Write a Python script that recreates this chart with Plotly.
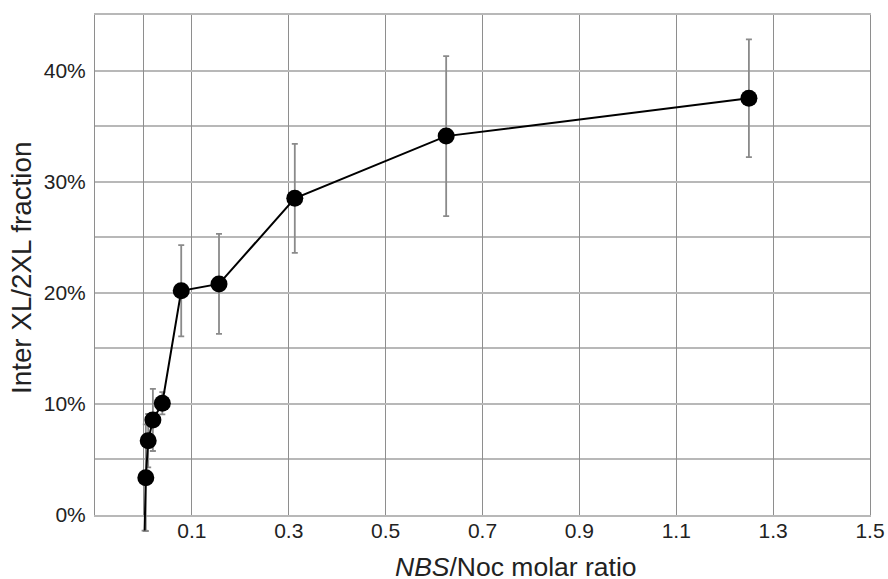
import plotly.graph_objects as go

# ---- data ----
ratio = [0.0024, 0.0049, 0.0098, 0.0195, 0.039, 0.078, 0.156, 0.3125, 0.625, 1.25]
frac = [-0.014, 0.0336, 0.0669, 0.0856, 0.1006, 0.2018, 0.2080, 0.2850, 0.3410, 0.3750]
err = [0.0, 0.048, 0.024, 0.028, 0.010, 0.041, 0.045, 0.049, 0.072, 0.053]
x_tick_vals = [0.1, 0.3, 0.5, 0.7, 0.9, 1.1, 1.3, 1.5]
x_tick_text = ["0.1", "0.3", "0.5", "0.7", "0.9", "1.1", "1.3", "1.5"]
y_tick_vals = [0.0, 0.1, 0.2, 0.3, 0.4]
y_tick_text = ["0%", "10%", "20%", "30%", "40%"]
x_title = "<i>NBS</i>/Noc molar ratio"
y_title = "Inter XL/2XL fraction"

FONT = "Liberation Sans, Arial, sans-serif"
W, H = 888, 579
ML, MR, MT, MB = 95, 18, 15, 39
plot_h = H - MT - MB
y_range = [0.0, 0.45]
below = 25  # px of extra room below the 0% line for the overflow segment
main_bottom = below / plot_h
ext_min = -y_range[1] * below / (plot_h - below)

marker_sizes = [17 if v >= 0 else 0 for v in frac]

fig = go.Figure()
# placeholder so the gridded main subplot is drawn
fig.add_trace(go.Scatter(x=[None], y=[None], xaxis="x", yaxis="y",
                         showlegend=False, hoverinfo="skip"))
fig.add_trace(go.Scatter(
    x=ratio, y=frac, mode="lines+markers",
    line=dict(color="black", width=2),
    marker=dict(color="black", size=marker_sizes, opacity=1,
                line=dict(width=0, color="black")),
    error_y=dict(type="data", array=err, visible=True, color="#8a8a8a",
                 thickness=1.8, width=3),
    xaxis="x2", yaxis="y2", showlegend=False, cliponaxis=False,
))

grid_v = "#8e8e8e"
grid_h = "#b8b8b8"
fig.update_layout(
    width=W, height=H,
    margin=dict(l=ML, r=MR, t=MT, b=MB, autoexpand=False),
    paper_bgcolor="white", plot_bgcolor="rgba(0,0,0,0)",
    font=dict(family=FONT, color="#222222", size=21),
    xaxis=dict(domain=[0, 1], range=[-0.1, 1.5], anchor="y", automargin=False,
               tickmode="array", tickvals=x_tick_vals, ticktext=x_tick_text,
               showgrid=True, gridcolor=grid_v, gridwidth=1,
               zeroline=True, zerolinecolor=grid_v, zerolinewidth=1,
               showline=True, linecolor=grid_h, linewidth=1.5, mirror=True,
               ticks="", ticklabelstandoff=-4,
               tickfont=dict(size=21, family=FONT, color="#222")),
    yaxis=dict(domain=[main_bottom, 1], range=y_range, anchor="x", automargin=False,
               tickmode="array", tickvals=y_tick_vals, ticktext=y_tick_text,
               showgrid=True, gridcolor=grid_h, gridwidth=1.5,
               minor=dict(dtick=0.05, tick0=0, showgrid=True, gridcolor=grid_h, gridwidth=1.5),
               zeroline=False,
               showline=True, linecolor=grid_v, linewidth=1, mirror=True,
               ticks="", ticklabelstandoff=4,
               tickfont=dict(size=21, family=FONT, color="#222")),
    xaxis2=dict(domain=[0, 1], range=[-0.1, 1.5], anchor="y2", visible=False),
    yaxis2=dict(domain=[0, 1], range=[ext_min, y_range[1]], anchor="x2", visible=False),
    annotations=[
        dict(text=x_title, xref="paper", yref="paper",
             x=(515.5 - ML) / (W - ML - MR), y=(H - MB - 567) / plot_h,
             xanchor="center", yanchor="middle", showarrow=False,
             font=dict(size=26.5, family=FONT, color="#222")),
        dict(text=y_title, xref="paper", yref="paper",
             x=(21 - ML) / (W - ML - MR), y=(H - MB - 268) / plot_h,
             xanchor="center", yanchor="middle", showarrow=False, textangle=-90,
             font=dict(size=27.8, family=FONT, color="#222")),
    ],
)

fig.write_html("out.html", config={"displayModeBar": False},
               post_script="document.body.style.margin='0';")
